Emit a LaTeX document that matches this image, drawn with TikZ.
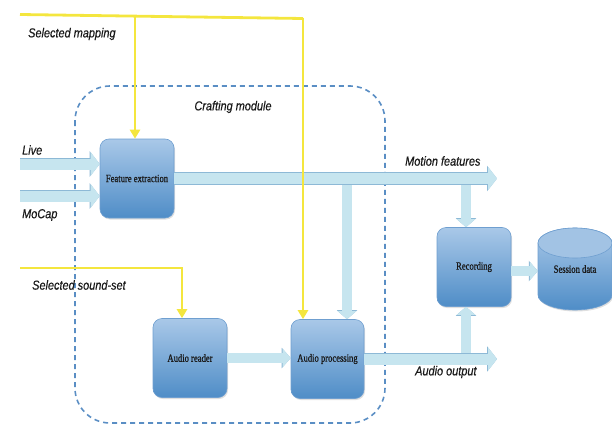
\documentclass[tikz,border=0pt]{standalone}
\usepackage{fontspec}
\setmainfont{Liberation Serif}
\newfontfamily\lblfont[FakeStretch=0.84,FakeBold=0.5]{Liberation Sans}
\newfontfamily\boxfont[FakeStretch=0.78,FakeBold=0.9]{Liberation Serif}
\usetikzlibrary{arrows.meta,shapes.geometric,shadows,calc}
\definecolor{boxtop}{HTML}{A9C8E8}
\definecolor{boxbot}{HTML}{4F8DC7}
\definecolor{boxline}{HTML}{6F9FD0}
\definecolor{cyltop}{HTML}{A2C3E4}
\definecolor{arrowfill}{HTML}{C6E5EF}
\definecolor{arrowline}{HTML}{8DB9D6}
\definecolor{yel}{HTML}{F4E63E}
\definecolor{dashc}{HTML}{5A8EC4}
\definecolor{txt}{HTML}{1A1A1A}
\begin{document}
\begin{tikzpicture}[x=1pt,y=-1pt,
  blk/.style={rounded corners=9pt, draw=boxline, line width=0.6pt,
    top color=boxtop, bottom color=boxbot, minimum width=74pt, minimum height=79pt,
    font=\boxfont\fontsize{11}{12}\selectfont, text=txt, inner sep=0pt,
    drop shadow={shadow xshift=1pt, shadow yshift=-1.5pt, opacity=0.25}},
  lbl/.style={font=\lblfont\itshape\fontsize{13}{15}\selectfont, text=txt, inner sep=0pt},
  ylw/.style={draw=yel, line width=2.8pt},
  ylwarrow/.style={ylw, -{Triangle[length=9pt,width=10pt]}},
  fatbig/.style={line width=11pt, draw=arrowfill, -{Triangle[length=9pt,width=23pt]},
    preaction={draw=arrowline, line width=12.2pt, -{Triangle[length=10pt,width=25pt]}}},
  fatmid/.style={line width=9.5pt, draw=arrowfill, -{Triangle[length=8pt,width=18pt]},
    preaction={draw=arrowline, line width=10.7pt, -{Triangle[length=9pt,width=20pt]}}},
  dashbox/.style={draw=dashc, line width=1.6pt, dash pattern=on 5pt off 4pt, rounded corners=35pt}
]
\useasboundingbox (0,0) rectangle (612,425);

% crafting module frame
\draw[dashbox] (75,86) rectangle (385,423);
\node[lbl] (craft) at (233,107) {Crafting module};

% blocks
\node[blk] (fe) at (137,178.5) {Feature extraction};
\node[blk] (ar) at (190,358) {Audio reader};
\node[blk, minimum width=73pt] (ap) at (327.5,359) {Audio processing};
\node[blk] (rec) at (474,267) {Recording};

% session data cylinder
\path[top color=boxtop, bottom color=boxbot, draw=boxline, line width=0.6pt,
  drop shadow={shadow xshift=1pt, shadow yshift=-1.5pt, opacity=0.25}]
  (538,243) -- (538,295) arc[start angle=180, end angle=0, x radius=37, y radius=15]
  -- (612,243) arc[start angle=0, end angle=-180, x radius=37, y radius=15] -- cycle;
\draw[boxline, line width=0.6pt, fill=cyltop] (575,243) ellipse [x radius=37, y radius=15];
\node[minimum width=74pt, minimum height=82pt, inner sep=0pt, text=txt,
  font=\boxfont\fontsize{11}{12}\selectfont] (sd) at (575,269) {Session data};

% coordinates
\coordinate (livestart) at (20,164);
\coordinate (mocapstart) at (20,196);
\coordinate (mfend) at (497,178.5);
\coordinate (mfdownA) at (347,180);
\coordinate (mfdownB) at (466,180);
\coordinate (aoend) at (497,359);
\coordinate (aoup) at (466,357);

% vertical fat arrows (drawn below horizontal ones)
\draw[fatmid] (mfdownA) -- (mfdownA |- ap.north);
\draw[fatmid] (mfdownB) -- (mfdownB |- rec.north);
\draw[fatmid] (aoup) -- (aoup |- rec.south);

% horizontal fat arrows
\draw[fatbig] (livestart) -- (livestart -| fe.west);
\draw[fatbig] (mocapstart) -- (mocapstart -| fe.west);
\draw[fatbig] (fe.east) -- (mfend);
\draw[fatmid] (ar.east) -- (ar.east -| ap.west);
\draw[fatbig] (ap.east) -- (aoend);
\draw[fatmid] ([yshift=-4pt]rec.east) -- ([yshift=-4pt]rec.east -| sd.west);

% yellow selection lines
\coordinate (ymL) at (20,14.5);
\coordinate (ymR) at (303,18.5);
\coordinate (ym1) at (135,16.1);
\draw[ylw] (ymL) -- (ymR);
\draw[ylwarrow] (ymR) -- (ymR |- ap.north);
\draw[ylwarrow] (ym1) -- (ym1 |- fe.north);
\coordinate (ysL) at (20,268);
\coordinate (ysC) at (182,268);
\draw[ylwarrow] (ysL) -- (ysC) -- (ysC |- ar.north);

% labels
\node[lbl, anchor=west] (selmap) at (28,34) {Selected mapping};
\node[lbl, anchor=west] (live) at (22,150) {Live};
\node[lbl, anchor=west] (mocap) at (22,215) {MoCap};
\node[lbl, anchor=west] (motion) at (405,161) {Motion features};
\node[lbl, anchor=west] (selsound) at (32,285) {Selected sound-set};
\node[lbl, anchor=west] (aout) at (415,372) {Audio output};
\end{tikzpicture}
\end{document}
